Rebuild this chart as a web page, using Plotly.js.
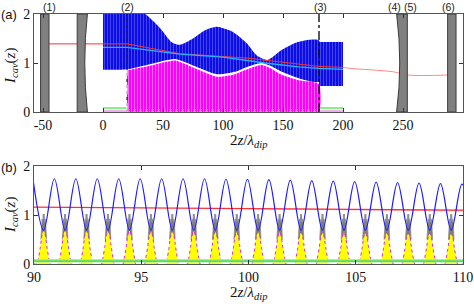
<!DOCTYPE html>
<html><head><meta charset="utf-8">
<script src="https://cdn.plot.ly/plotly-3.0.1.min.js"></script>
<style>html,body{margin:0;padding:0;background:#fff}#g{width:474px;height:304px}</style>
</head><body><div id="g"></div>
<script>
// ---------- panel (a) data ----------
const blueUpX = [0, 20, 35, 42, 49, 57, 64, 75, 85, 95, 108, 120, 128, 137, 149, 160, 168, 180];
const blueUpY = [2, 2, 2, 1.85, 1.67, 1.43, 1.37, 1.5, 1.67, 1.74, 1.64, 1.4, 1.16, 1.06, 1.27, 1.41, 1.46, 1.46];
const blueLoX = [0, 20, 40, 60, 75, 95, 110, 120, 132, 140, 149, 163, 180];
const blueLoY = [0.86, 0.87, 0.98, 1.08, 0.95, 0.77, 0.82, 0.92, 1.0, 0.94, 0.82, 0.69, 0.62];
const blockX = [180, 200];
const blockY = [0.53, 1.43];
const magX = [20, 40, 60, 75, 95, 110, 120, 132, 140, 149, 163, 180];
const magY = [0.85, 0.95, 1.05, 0.91, 0.72, 0.77, 0.87, 0.96, 0.89, 0.76, 0.65, 0.57];
const redX = [-45, 20, 64, 120, 180, 200];
const redY = [1.39, 1.39, 1.19, 1.1, 0.93, 0.91];
const redOutX = [200, 206, 242, 254, 287];
const redOutY = [0.91, 0.89, 0.82, 0.755, 0.755];
const cyanX = [0, 20, 64, 100, 135, 163, 180, 200];
const cyanY = [1.32, 1.32, 1.18, 1.12, 1.0, 0.92, 0.89, 0.87];
const greenX = [0, 20, null, 180, 200];
const greenY = [0.08, 0.08, null, 0.08, 0.08];
const greenInX = [20, 180];
const greenInY = [0.05, 0.05];
const pinkX = [0, 20, null, 180, 200];
const pinkY = [0.02, 0.02, null, 0.02, 0.02];
const planeX = [20, 180];           // planes (2) and (3)
const mirrorFlatL = [-52, 287.2];   // mirrors (1) and (6)
const mirrorFlatR = [-45, 294.2];
const mirror2X = [-21.5, -13];      // concave right face
const mirror2Depth = 2.2;
const mirror45X = [244.7, 253.6];   // concave left face
const mirror45Depth = 2.6;
const curveY = [0, 0.5, 1, 1.5, 2];
const curveF = [0, 0.75, 1, 0.75, 0];
const markLabels = ['(1)', '(2)', '(3)', '(4)', '(5)', '(6)'];
const markPos = [-45, 20, 181, 243, 256, 288];
const xTicksA = [-50, 0, 50, 100, 150, 200, 250];

// ---------- panel (b) data ----------
const peakX = [89.95, 90.95, 91.95, 92.95, 93.95, 94.95, 95.95, 96.95, 97.95, 98.95, 99.95, 100.95, 101.95, 102.95, 103.95, 104.95, 105.95, 106.95, 107.95, 108.95, 109.95];
const peakY = [1.74, 1.74, 1.74, 1.74, 1.74, 1.74, 1.74, 1.74, 1.74, 1.73, 1.73, 1.72, 1.71, 1.7, 1.69, 1.68, 1.67, 1.66, 1.65, 1.64, 1.63];
const troughX = [90.45, 91.45, 92.45, 93.45, 94.45, 95.45, 96.45, 97.45, 98.45, 99.45, 100.45, 101.45, 102.45, 103.45, 104.45, 105.45, 106.45, 107.45, 108.45, 109.45, 110.45];
const troughY = [0.69, 0.69, 0.69, 0.69, 0.69, 0.69, 0.69, 0.69, 0.69, 0.69, 0.69, 0.69, 0.69, 0.69, 0.69, 0.69, 0.69, 0.69, 0.69, 0.69, 0.69];
const yellowH = [0.69, 0.69, 0.68, 0.68, 0.68, 0.67, 0.67, 0.67, 0.66, 0.66, 0.66, 0.65, 0.65, 0.65, 0.64, 0.64, 0.64, 0.63, 0.63, 0.62];
const yProfDx = [-0.3, -0.24, -0.155, -0.08, 0, 0.08, 0.155, 0.24, 0.3];
const yProfF = [0, 0.17, 0.5, 0.85, 1, 0.85, 0.5, 0.17, 0];
const gProfDx = [-0.13, -0.1, -0.07, -0.04, -0.02, 0, 0.02, 0.04, 0.07, 0.1, 0.13];
const gProfY = [0.5, 0.8, 0.92, 0.85, 1.02, 0.9, 1.02, 0.85, 0.92, 0.8, 0.5];
const redBX = [90, 110];
const redBY = [1.16, 1.1];
const redB2X = [100, 110];
const redB2Y = [1.13, 1.085];
const greenBX = [90, 110];
const greenBY = [0.065, 0.065];
const xTicksB = [90, 95, 100, 105, 110];

// ---------- build traces ----------
const traces = [];
const A = {xaxis: 'x', yaxis: 'y', hoverinfo: 'skip', showlegend: false};
const B = {xaxis: 'x2', yaxis: 'y2', hoverinfo: 'skip', showlegend: false};

traces.push(Object.assign({}, A, {
  x: magX.concat([...magX].reverse()), y: magY.concat(magX.map(() => 0)),
  mode: 'lines', line: {width: 0, shape: 'spline', smoothing: 0.6, color: 'rgba(0,0,0,0)'},
  fill: 'toself', fillcolor: '#ff00ff',
  fillpattern: {shape: '|', bgcolor: '#ff00ff', fgcolor: '#ff8cff', size: 3, solidity: 0.25}
}));
traces.push(Object.assign({}, A, {
  x: blueUpX.concat([...blueLoX].reverse()), y: blueUpY.concat([...blueLoY].reverse()),
  mode: 'lines', line: {width: 0, shape: 'spline', smoothing: 0.6, color: 'rgba(0,0,0,0)'},
  fill: 'toself', fillcolor: '#1010e6',
  fillpattern: {shape: '|', bgcolor: '#0c0ce4', fgcolor: '#6464f6', size: 3, solidity: 0.22}
}));
traces.push(Object.assign({}, A, {
  x: [blockX[0], blockX[1], blockX[1], blockX[0]], y: [blockY[0], blockY[0], blockY[1], blockY[1]],
  mode: 'lines', line: {width: 0, color: 'rgba(0,0,0,0)'},
  fill: 'toself', fillcolor: '#1010e6',
  fillpattern: {shape: '|', bgcolor: '#0c0ce4', fgcolor: '#6464f6', size: 3, solidity: 0.22}
}));
traces.push(Object.assign({}, A, {x: pinkX, y: pinkY, mode: 'lines', line: {color: '#f090f0', width: 1.5}}));
traces.push(Object.assign({}, A, {x: greenX, y: greenY, mode: 'lines', line: {color: '#80f080', width: 2}}));
traces.push(Object.assign({}, A, {x: greenInX, y: greenInY, mode: 'lines', line: {color: '#44cc44', width: 1, dash: 'dot'}}));
traces.push(Object.assign({}, A, {x: greenInX, y: [0.015, 0.015], mode: 'lines', line: {color: '#ffaa33', width: 1, dash: 'dot'}}));
traces.push(Object.assign({}, A, {x: [planeX[0], planeX[0]], y: [0, 2], mode: 'lines', line: {color: '#222', width: 1.2, dash: 'dot'}}));
traces.push(Object.assign({}, A, {x: [planeX[0], planeX[0]], y: [0, magY[0]], mode: 'lines', line: {color: '#ffffff', width: 1.2, dash: 'dash'}}));
traces.push(Object.assign({}, A, {x: [planeX[1], planeX[1]], y: [0, 2], mode: 'lines', line: {color: '#111', width: 1.4, dash: 'dashdot'}}));
traces.push(Object.assign({}, A, {x: redX, y: redY, mode: 'lines', line: {color: '#ff3030', width: 1}}));
traces.push(Object.assign({}, A, {x: redOutX, y: redOutY, mode: 'lines', line: {color: '#ff8888', width: 1, shape: 'spline'}}));
traces.push(Object.assign({}, A, {x: cyanX, y: cyanY, mode: 'lines', line: {color: '#22b4ff', width: 1.3}}));
// mirrors
const mirFill = '#808080', mirLine = '#3a3a3a';
for (let i = 0; i < mirrorFlatL.length; i++) {
  traces.push(Object.assign({}, A, {
    x: [mirrorFlatL[i], mirrorFlatR[i], mirrorFlatR[i], mirrorFlatL[i], mirrorFlatL[i]],
    y: [0, 0, 2, 2, 0], mode: 'lines', line: {color: mirLine, width: 1}, fill: 'toself', fillcolor: mirFill}));
}
{
  const mx = [mirror2X[0]], my = [0];
  curveY.forEach((y, k) => { mx.push(mirror2X[1] - mirror2Depth * curveF[k]); my.push(y); });
  mx.push(mirror2X[0], mirror2X[0]); my.push(2, 0);
  traces.push(Object.assign({}, A, {x: mx, y: my, mode: 'lines', line: {color: mirLine, width: 1}, fill: 'toself', fillcolor: mirFill}));
  const nx = [], ny = [];
  curveY.forEach((y, k) => { nx.push(mirror45X[0] + mirror45Depth * curveF[k]); ny.push(y); });
  nx.push(mirror45X[1], mirror45X[1], mirror45X[0]); ny.push(2, 0, 0);
  traces.push(Object.assign({}, A, {x: nx, y: ny, mode: 'lines', line: {color: mirLine, width: 1}, fill: 'toself', fillcolor: mirFill}));
}

// ---------- panel (b) traces ----------
const gX = [], gY = [];
troughX.slice(0, yellowH.length).forEach(c => {
  gProfDx.forEach((d, k) => { gX.push(c + d); gY.push(gProfY[k]); });
  gX.push(null); gY.push(null);
});
traces.push(Object.assign({}, B, {x: gX, y: gY, mode: 'lines', line: {color: '#8c8c8c', width: 0.8}, fill: 'toself', fillcolor: '#7d7d7d'}));
const yX = [], yY = [];
troughX.slice(0, yellowH.length).forEach((c, i) => {
  yProfDx.forEach((d, k) => { yX.push(c + d); yY.push(yellowH[i] * yProfF[k]); });
});
traces.push(Object.assign({}, B, {x: yX, y: yY, mode: 'lines', line: {color: 'rgba(0,0,0,0)', width: 0, shape: 'spline', smoothing: 0.7}, fill: 'tozeroy', fillcolor: '#ffff00'}));
traces.push(Object.assign({}, B, {x: [90].concat(yX, [110]), y: [0].concat(yY, [0]), mode: 'lines', line: {color: '#e020e0', width: 1, dash: 'dot', shape: 'spline', smoothing: 0.7}}));
traces.push(Object.assign({}, B, {x: greenBX, y: greenBY, mode: 'lines', line: {color: '#a8f0a8', width: 3.5}}));
traces.push(Object.assign({}, B, {x: greenBX, y: [0.06, 0.06], mode: 'lines', line: {color: '#22cc22', width: 1}}));
traces.push(Object.assign({}, B, {x: redB2X, y: redB2Y, mode: 'lines', line: {color: '#ffb0b0', width: 1.2}}));
traces.push(Object.assign({}, B, {x: redBX, y: redBY, mode: 'lines', line: {color: '#ff3030', width: 1.2}}));
const bX = [], bY = [];
for (let i = 0; i < peakX.length; i++) {
  bX.push(peakX[i]); bY.push(peakY[i]);
  if (i < troughX.length) { bX.push(troughX[i]); bY.push(troughY[i]); }
}
traces.push(Object.assign({}, B, {x: bX, y: bY, mode: 'lines', line: {color: '#1a1aff', width: 1.2, shape: 'spline', smoothing: 1}}));

// ---------- layout ----------
const W = 474, H = 304;
const xDom = [34 / W, 463 / W];
const tickFont = {family: 'Liberation Serif, DejaVu Serif, serif', size: 14, color: '#111'};
const axBase = {showline: true, linecolor: '#555', linewidth: 1, mirror: 'ticks', ticks: 'inside', ticklen: 4,
  tickcolor: '#333', showgrid: false, zeroline: false, tickfont: tickFont, fixedrange: true};
const annots = [];
const an = (o) => annots.push(Object.assign({showarrow: false, xanchor: 'center', yanchor: 'middle', xref: 'paper', yref: 'paper'}, o));
markLabels.forEach((t, i) => an({x: markPos[i], xref: 'x', y: 1 - 7 / H, text: t,
  font: {family: 'Liberation Sans, Arial, sans-serif', size: 10.5, color: '#222'}}));
an({x: 9 / W, y: 1 - 15 / H, text: '(a)', font: {family: 'Liberation Sans, Arial, sans-serif', size: 13, color: '#111'}});
an({x: 9 / W, y: 1 - 167 / H, text: '(b)', font: {family: 'Liberation Sans, Arial, sans-serif', size: 13, color: '#111'}});
const titleFont = {family: 'Liberation Serif, DejaVu Serif, serif', size: 15, color: '#111'};
const xTitle = '2<i>z</i>/<i>λ</i><sub><i>dip</i></sub>';
const yTitle = '<i>I</i><sub><i>cav</i></sub>(<i>z</i>)';
an({x: 248 / W, y: 1 - 141 / H, text: xTitle, font: titleFont});
an({x: 248 / W, y: 1 - 293 / H, text: xTitle, font: titleFont});
an({x: 11 / W, y: 1 - 66 / H, text: yTitle, textangle: -90, font: titleFont});
an({x: 11 / W, y: 1 - 215 / H, text: yTitle, textangle: -90, font: titleFont});

const layout = {
  width: W, height: H, margin: {l: 0, r: 0, t: 0, b: 0}, paper_bgcolor: '#fff', plot_bgcolor: '#fff', showlegend: false,
  xaxis: Object.assign({}, axBase, {domain: xDom, range: [-57.5, 300], anchor: 'y', tickvals: xTicksA, ticktext: xTicksA.map(v => v < 0 ? '-' + Math.abs(v) : String(v))}),
  yaxis: Object.assign({}, axBase, {domain: [1 - 112 / H, 1 - 14 / H], range: [0, 2], anchor: 'x', tickvals: [0, 1, 2]}),
  xaxis2: Object.assign({}, axBase, {domain: xDom, range: [90, 110], anchor: 'y2', tickvals: xTicksB}),
  yaxis2: Object.assign({}, axBase, {domain: [1 - 264 / H, 1 - 166 / H], range: [0, 2], anchor: 'x2', tickvals: [0, 1, 2]}),
  annotations: annots
};
Plotly.newPlot('g', traces, layout, {staticPlot: true, displayModeBar: false});
</script></body></html>
